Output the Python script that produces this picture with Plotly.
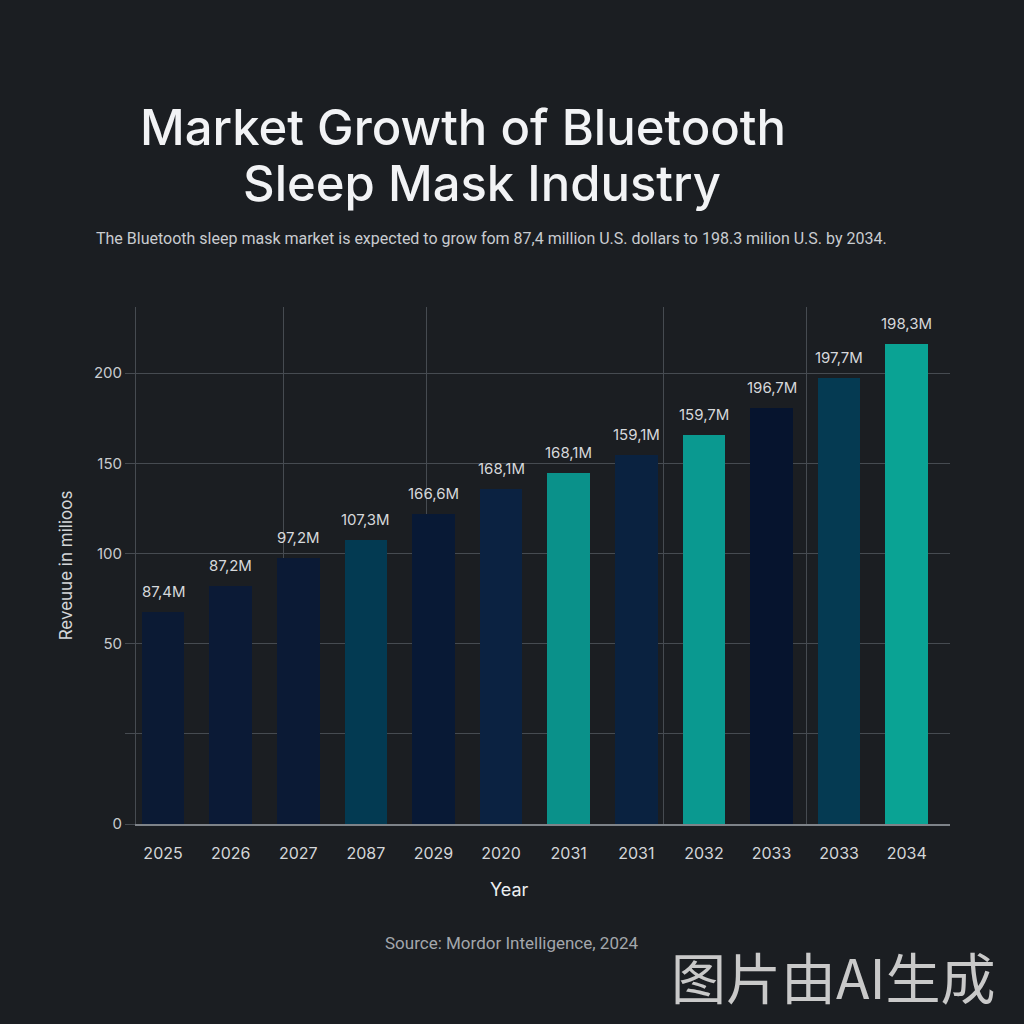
import plotly.graph_objects as go

# ---- data ----
year_labels = ["2025", "2026", "2027", "2087", "2029", "2020",
               "2031", "2031", "2032", "2033", "2033", "2034"]
# bar heights in the chart's own axis units
revenue = [94, 105.5, 118, 126, 137.5, 148.5, 155.6, 163.6, 172.5, 184.5, 198, 213]
value_labels = ["87,4M", "87,2M", "97,2M", "107,3M", "166,6M", "168,1M",
                "168,1M", "159,1M", "159,7M", "196,7M", "197,7M", "198,3M"]
bar_colors = ["#0b1a34", "#0b1a36", "#0b1a35", "#033a52", "#081935", "#0b2241",
              "#0a918a", "#0a2240", "#0a9990", "#06142e", "#053a52", "#0aa394"]
y_tickvals = [0, 40, 80, 120, 160, 200]
y_ticktext = ["0", "", "50", "100", "150", "200"]
vgrid_positions = [1.78, 3.89, 7.40, 9.51]

title_line1 = "Market Growth of Bluetooth"
title_line2 = "Sleep Mask Industry"
subtitle_text = ("The Bluetooth sleep mask market is expected to grow fom 87,4 million "
                 "U.S. dollars to 198.3 milion U.S. by 2034.")
x_title = "Year"
y_title = "Reveuue in milioos"
source_text = "Source: Mordor Intelligence, 2024"
watermark_text = "图片由AI生成"

BG = "#1b1e22"
GRID = "#464b51"
L, R, T, B = 136, 74, 307, 200
PW, PH = 1024 - L - R, 1024 - T - B


def px(xp):
    return (xp - L) / PW


def py(yp):
    return (1024 - B - yp) / PH


x_pos = list(range(len(year_labels)))

fig = go.Figure()
fig.add_trace(go.Bar(
    x=x_pos, y=revenue, width=0.63,
    marker=dict(color=bar_colors, line=dict(width=0)),
    hoverinfo="skip", showlegend=False,
))
# invisible trace on secondary x axis to carry irregular vertical gridlines
fig.add_trace(go.Scatter(x=vgrid_positions, y=[0]*len(vgrid_positions), xaxis="x2",
                         mode="markers", marker=dict(opacity=0), showlegend=False,
                         hoverinfo="skip"))

for xi, yi, lab in zip(x_pos, revenue, value_labels):
    fig.add_annotation(x=xi, y=yi, text=lab, showarrow=False, yanchor="bottom",
                       yshift=9, font=dict(family="Inter, Lato, sans-serif",
                                           size=15, color="#d6d8db"))

fig.update_layout(
    width=1024, height=1024,
    paper_bgcolor=BG, plot_bgcolor=BG,
    margin=dict(l=L, r=R, t=T, b=B),
    bargap=0,
    xaxis=dict(
        range=[-0.4, 11.64], tickvals=x_pos, ticktext=year_labels,
        showgrid=False, zeroline=False,
        showline=True, linecolor="#7e8389", linewidth=1.5,
        ticks="", ticklabelstandoff=14,
        tickfont=dict(family="Inter, Lato, sans-serif", size=16, color="#d4d6d9"),
    ),
    xaxis2=dict(
        overlaying="x", range=[-0.4, 11.64], tickvals=vgrid_positions,
        showticklabels=False, showgrid=True, gridcolor=GRID, gridwidth=1,
        zeroline=False, showline=False, ticks="",
    ),
    yaxis=dict(
        range=[0, 229.3], tickvals=y_tickvals, ticktext=y_ticktext,
        showgrid=True, gridcolor=GRID, gridwidth=1, zeroline=False,
        showline=True, linecolor=GRID, linewidth=1,
        ticks="outside", ticklen=10, tickcolor=GRID,
        tickfont=dict(family="Inter, Lato, sans-serif", size=15, color="#c9ccd0"),
        title=dict(text=y_title, font=dict(family="Inter, Lato, sans-serif",
                                           size=17, color="#d4d6d9"), standoff=16),
    ),
)

title_font = dict(family="Inter, Lato, sans-serif", size=49, color="#f2f3f5", weight=500)
fig.add_annotation(text=title_line1, xref="paper", yref="paper", x=px(463), xanchor="center",
                   y=py(127), yanchor="middle", showarrow=False, font=title_font)
fig.add_annotation(text=title_line2, xref="paper", yref="paper", x=px(482), xanchor="center",
                   y=py(183), yanchor="middle", showarrow=False, font=title_font)
fig.add_annotation(text=subtitle_text, xref="paper", yref="paper", x=px(491), xanchor="center",
                   y=py(238), yanchor="middle", showarrow=False,
                   font=dict(family="Roboto, sans-serif", size=16, color="#c9ccd0"))
fig.add_annotation(text=x_title, xref="paper", yref="paper", x=px(509), xanchor="center",
                   y=py(889), yanchor="middle", showarrow=False,
                   font=dict(family="Inter, Lato, sans-serif", size=18, color="#eceef0"))
fig.add_annotation(text=source_text, xref="paper", yref="paper", x=px(511), xanchor="center",
                   y=py(943), yanchor="middle", showarrow=False,
                   font=dict(family="Roboto, sans-serif", size=17, color="#a3a7ac"))
fig.add_annotation(text=watermark_text, xref="paper", yref="paper", x=px(833), xanchor="center",
                   y=py(975), yanchor="middle", showarrow=False,
                   font=dict(family="Noto Sans CJK SC, sans-serif", size=55, color="#c9c9c9"))

fig.write_html("out.html")
